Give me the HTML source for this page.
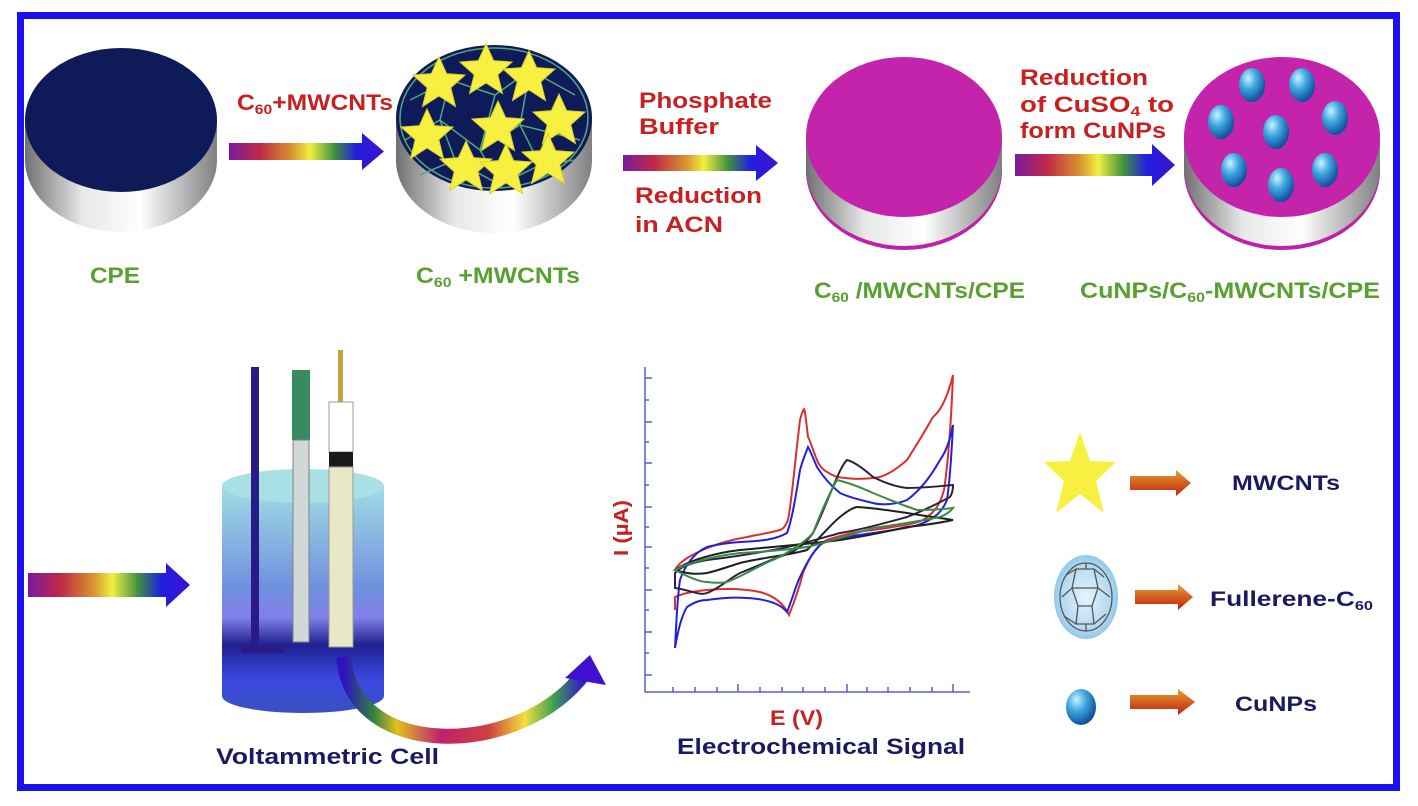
<!DOCTYPE html>
<html><head><meta charset="utf-8"><style>
html,body{margin:0;padding:0;background:#fff}
svg{display:block}
text{font-family:"Liberation Sans",sans-serif;font-weight:bold}
</style></head><body>
<svg width="1418" height="806" viewBox="0 0 1418 806" xmlns="http://www.w3.org/2000/svg">
<defs>
<linearGradient id="rb" x1="0" x2="1" y1="0" y2="0">
<stop offset="0" stop-color="#7a1aa0"/><stop offset="0.2" stop-color="#c02848"/><stop offset="0.4" stop-color="#d89030"/><stop offset="0.52" stop-color="#f0f040"/><stop offset="0.68" stop-color="#409040"/><stop offset="0.82" stop-color="#2020e0"/><stop offset="1" stop-color="#4010d0"/>
</linearGradient>
<linearGradient id="cv" x1="0" x2="1" y1="0" y2="0">
<stop offset="0" stop-color="#3010c0"/><stop offset="0.12" stop-color="#308040"/><stop offset="0.22" stop-color="#e0c020"/><stop offset="0.4" stop-color="#c02070"/><stop offset="0.6" stop-color="#d04040"/><stop offset="0.75" stop-color="#f0e040"/><stop offset="0.87" stop-color="#40a050"/><stop offset="1" stop-color="#3010d0"/>
</linearGradient>
<linearGradient id="side" x1="0" x2="1"><stop offset="0" stop-color="#707070"/><stop offset="0.3" stop-color="#e8e8e8"/><stop offset="0.6" stop-color="#ffffff"/><stop offset="1" stop-color="#808080"/></linearGradient>
<linearGradient id="cyl" x1="0" x2="0" y1="0" y2="1"><stop offset="0" stop-color="#a0dce4"/><stop offset="0.45" stop-color="#7090e0"/><stop offset="0.58" stop-color="#8080e8"/><stop offset="0.7" stop-color="#202090"/><stop offset="0.85" stop-color="#3a48e0"/><stop offset="1" stop-color="#3a50c0"/></linearGradient>
<linearGradient id="or" x1="0" x2="0" y1="0" y2="1"><stop offset="0" stop-color="#e8a030"/><stop offset="1" stop-color="#c02010"/></linearGradient>
<radialGradient id="ball" cx="0.35" cy="0.3" r="0.7"><stop offset="0" stop-color="#c8f4ff"/><stop offset="0.45" stop-color="#40a8e0"/><stop offset="1" stop-color="#1050a0"/></radialGradient>
<radialGradient id="ful" cx="0.5" cy="0.5" r="0.5"><stop offset="0" stop-color="#e8f4ff"/><stop offset="0.8" stop-color="#b0d8f0"/><stop offset="1" stop-color="#90c8ec"/></radialGradient>
<polygon id="star" points="0,-26 7.6,-9.4 26,-8 11.8,4.7 16.5,23.5 0,13 -16.5,23.5 -11.8,4.7 -26,-8 -7.6,-9.4" fill="#f8f040" stroke="#d8d030" stroke-width="1"/>
</defs>
<rect x="20.5" y="15.5" width="1376" height="772" fill="#fff" stroke="#1a10f0" stroke-width="7"/>

<path d="M25,120 L25,160 A96,72 0 0 0 217,160 L217,120 Z" fill="url(#side)"/>
<ellipse cx="121" cy="120" rx="96" ry="72" fill="#0f1a58"/>
<path d="M396,118 L396,160 A98,73 0 0 0 592,160 L592,118 Z" fill="url(#side)"/>
<ellipse cx="494" cy="118" rx="98" ry="73" fill="#0f1a58"/>
<g stroke="#50a880" stroke-width="1.5" fill="none">
<path d="M410,100 L450,80 L495,95 L530,70 L575,95 M405,140 L440,120 L480,150 L520,125 L580,140 M420,175 L455,160 L500,185 L540,165 L575,160 M450,80 L440,120 L455,160 M495,95 L480,150 L500,185 M530,70 L520,125 L540,165"/>
<ellipse cx="494" cy="118" rx="94" ry="70"/>
</g>
<use href="#star" x="439" y="83"/><use href="#star" x="486" y="70"/><use href="#star" x="529" y="77"/>
<use href="#star" x="427" y="135"/><use href="#star" x="498" y="127"/><use href="#star" x="559" y="120"/>
<use href="#star" x="466" y="167"/><use href="#star" x="506" y="170"/><use href="#star" x="548" y="160"/>
<path d="M806,137 L806,170 A98,80 0 0 0 1002,170 L1002,137 Z" fill="url(#side)"/>
<path d="M806,166 A98,80 0 0 0 1002,166 L1002,170 A98,80 0 0 1 806,170Z" fill="#c020a8"/>
<ellipse cx="904" cy="137" rx="98" ry="80" fill="#c424ac"/>
<path d="M1184,137 L1184,170 A98,80 0 0 0 1380,170 L1380,137 Z" fill="url(#side)"/>
<path d="M1184,166 A98,80 0 0 0 1380,166 L1380,170 A98,80 0 0 1 1184,170Z" fill="#c020a8"/>
<ellipse cx="1282" cy="137" rx="98" ry="80" fill="#c424ac"/>
<g fill="url(#ball)">
<ellipse cx="1252" cy="85" rx="13" ry="17"/><ellipse cx="1302" cy="85" rx="13" ry="17"/>
<ellipse cx="1221" cy="122" rx="13" ry="17"/><ellipse cx="1276" cy="132" rx="13" ry="17"/><ellipse cx="1335" cy="118" rx="13" ry="17"/>
<ellipse cx="1234" cy="170" rx="13" ry="17"/><ellipse cx="1281" cy="185" rx="13" ry="17"/><ellipse cx="1325" cy="170" rx="13" ry="17"/>
</g>

<g fill="url(#rb)">
<path d="M229,143 L362,143 L362,133 L384,151.5 L362,170 L362,160 L229,160Z"/>
<path d="M623,155 L756,155 L756,145 L778,163 L756,181 L756,171 L623,171Z"/>
<path d="M1015,154 L1152,154 L1152,144 L1175,165 L1152,186 L1152,176 L1015,176Z"/>
<path d="M28,573 L166,573 L166,563 L190,585 L166,607 L166,597 L28,597Z"/>
</g>

<g fill="#c82020" font-size="22">
<text x="237" y="110" textLength="156" lengthAdjust="spacingAndGlyphs">C<tspan font-size="14" dy="4">60</tspan><tspan dy="-4">+MWCNTs</tspan></text>
<text x="639" y="108" textLength="133" lengthAdjust="spacingAndGlyphs">Phosphate</text>
<text x="639" y="134" textLength="80" lengthAdjust="spacingAndGlyphs">Buffer</text>
<text x="635" y="203" textLength="127" lengthAdjust="spacingAndGlyphs">Reduction</text>
<text x="635" y="232" textLength="88" lengthAdjust="spacingAndGlyphs">in ACN</text>
<text x="1020" y="85" textLength="128" lengthAdjust="spacingAndGlyphs">Reduction</text>
<text x="1020" y="112" textLength="154" lengthAdjust="spacingAndGlyphs">of  CuSO<tspan font-size="14" dy="4">4</tspan><tspan dy="-4"> to</tspan></text>
<text x="1020" y="138" textLength="146" lengthAdjust="spacingAndGlyphs">form CuNPs</text>
</g>
<g fill="#58a030" font-size="22">
<text x="90" y="283" textLength="50" lengthAdjust="spacingAndGlyphs">CPE</text>
<text x="416" y="283" textLength="164" lengthAdjust="spacingAndGlyphs">C<tspan font-size="14" dy="4">60</tspan><tspan dy="-4"> +MWCNTs</tspan></text>
<text x="814" y="298" textLength="211" lengthAdjust="spacingAndGlyphs">C<tspan font-size="14" dy="4">60</tspan><tspan dy="-4"> /MWCNTs/CPE</tspan></text>
<text x="1080" y="298" textLength="300" lengthAdjust="spacingAndGlyphs">CuNPs/C<tspan font-size="14" dy="4">60</tspan><tspan dy="-4">-MWCNTs/CPE</tspan></text>
</g>

<path d="M222,486 L222,696 A81,17 0 0 0 384,696 L384,486Z" fill="url(#cyl)"/>
<ellipse cx="303" cy="486" rx="81" ry="17" fill="#a8e0e6"/>
<rect x="251" y="367" width="8" height="282" fill="#2a1a88"/>
<rect x="241" y="645" width="43" height="8" fill="#2a1a88"/>
<rect x="292" y="370" width="18" height="70" fill="#3a8a60"/>
<rect x="293" y="440" width="16" height="202" fill="#d0d8d8" stroke="#808080"/>
<rect x="338" y="350" width="5" height="52" fill="#c0a040"/>
<rect x="329" y="402" width="24" height="50" fill="#ffffff" stroke="#999"/>
<rect x="329" y="452" width="24" height="15" fill="#1a1a1a"/>
<rect x="329" y="467" width="24" height="180" fill="#eae6c8" stroke="#999"/>
<path d="M344,657 C350,760 520,760 585,672" stroke="url(#cv)" stroke-width="15" fill="none"/>
<polygon points="565,678 590,655 606,685" fill="#4010d0"/>
<text x="216" y="764" fill="#1a1a60" font-size="22" textLength="223" lengthAdjust="spacingAndGlyphs">Voltammetric Cell</text>

<g stroke="#5060e0" stroke-width="1.5" fill="none">
<path d="M645,367 L645,692 L970,692"/>
<path d="M645,378 h7 M645,400 h4 M645,422 h7 M645,442 h4 M645,463 h7 M645,485 h4 M645,507 h7 M645,527 h4 M645,547 h7 M645,568 h4 M645,590 h7 M645,610 h4 M645,632 h7 M645,653 h4 M645,675 h7"/>
<path d="M673,692 v-5 M695,692 v-5 M717,692 v-5 M738,692 v-8 M760,692 v-5 M782,692 v-5 M803,692 v-5 M825,692 v-5 M847,692 v-8 M867,692 v-5 M888,692 v-5 M910,692 v-5 M932,692 v-5 M953,692 v-8"/>
</g>
<g fill="none" stroke-width="2">
<path d="M675,610 L675,597 C690,590 730,586 760,592 C775,596 784,604 789,615 C795,600 800,585 803,573 C810,555 820,543 827,540 C845,534 860,531 873,530 C900,526 915,524 923,520 C935,512 940,505 944,490 C950,450 952,400 953,375 C948,395 942,410 933,417 C920,440 910,455 907,460 C890,475 880,478 873,478 C855,480 845,478 837,477 C825,472 820,468 817,460 C812,448 810,440 808,437 C806,420 805,410 804,409 C802,412 801,416 800,420 C795,460 792,500 788,520 C785,527 783,529 780,530 C765,534 755,535 747,537 C730,540 720,543 710,547 C695,553 680,560 675,570" stroke="#d83030"/>
<path d="M675,648 C678,630 682,615 687,607 C695,602 700,600 707,600 C720,598 735,597 747,598 C765,599 780,603 787,612 C792,600 796,585 800,577 C808,560 815,548 823,543 C840,537 860,535 873,533 C900,529 915,527 923,523 C935,518 942,512 947,500 C950,480 952,445 953,425 C950,440 946,452 940,460 C930,478 918,492 907,500 C895,505 880,505 873,503 C860,500 848,497 840,493 C830,485 822,475 817,467 C813,458 810,450 808,447 C805,455 802,462 800,470 C796,495 792,520 787,533 C775,540 760,541 740,542 C725,543 715,545 707,547 C695,552 685,565 680,580 C677,600 676,630 675,648" stroke="#2020e0"/>
<path d="M675,588 C690,590 700,596 707,593 C720,588 730,578 740,573 C760,565 775,558 790,553 C800,548 808,540 813,533 C822,515 828,498 833,487 C838,475 842,465 847,460 C855,462 865,470 873,477 C885,483 897,487 907,488 C925,488 940,486 953,485 C953,490 952,494 950,497 C935,505 920,512 907,517 C885,523 860,530 840,533 C815,540 795,546 773,550 C745,555 725,558 707,560 C690,563 680,567 675,573 Z" stroke="#302040"/>
<path d="M675,570 C690,575 700,574 707,573 C720,570 730,566 740,563 C760,558 790,555 807,550 C820,538 830,525 840,517 C846,512 852,508 857,507 C875,508 893,511 907,513 C925,516 940,518 953,520 C940,523 925,525 907,527 C885,532 860,537 840,540 C810,544 770,547 740,550 C715,553 690,560 675,570 Z" stroke="#202020"/>
<path d="M675,570 C690,578 700,582 707,582 C715,583 722,583 727,582 C745,575 760,565 773,560 C790,552 805,542 813,533 C820,515 830,492 837,480 C850,483 862,488 873,493 C890,500 905,506 917,510 C930,510 945,509 953,508 C950,512 945,515 940,517 C920,521 895,525 873,528 C850,535 825,543 807,547 C785,550 760,552 740,553 C715,556 690,562 675,570 Z" stroke="#3a8a48"/>
</g>
<text x="628" y="556" fill="#c82020" font-size="20" transform="rotate(-90 628 556)" textLength="56" lengthAdjust="spacingAndGlyphs">I (µA)</text>
<text x="770" y="725" fill="#c82020" font-size="21" textLength="53" lengthAdjust="spacingAndGlyphs">E (V)</text>
<text x="677" y="754" fill="#1a1a60" font-size="22" textLength="288" lengthAdjust="spacingAndGlyphs">Electrochemical Signal</text>

<polygon points="1080,432 1090,461 1116,462 1096,481 1104,513 1080,494 1056,513 1064,481 1044,462 1070,461" fill="#f8f040"/>
<path d="M1130,476 L1176,476 L1176,470 L1191,483 L1176,496 L1176,490 L1130,490Z" fill="url(#or)"/>
<text x="1232" y="490" fill="#1a1a60" font-size="21" textLength="108" lengthAdjust="spacingAndGlyphs">MWCNTs</text>
<ellipse cx="1086" cy="597" rx="32" ry="42" fill="url(#ful)"/>
<g stroke="#555" stroke-width="1.3" fill="none"><ellipse cx="1086" cy="597" rx="26" ry="34"/>
<path d="M1066,575 L1076,569 L1094,569 L1104,577 M1062,597 L1072,588 L1098,588 L1110,597 M1064,616 L1076,624 L1094,624 L1106,614 M1076,569 L1072,588 L1078,606 L1076,624 M1094,569 L1098,588 L1092,606 L1094,624 M1078,606 L1092,606 M1072,588 L1062,597 M1086,563 L1086,569 M1086,624 L1086,631"/></g>
<path d="M1135,590 L1178,590 L1178,584 L1193,597 L1178,610 L1178,604 L1135,604Z" fill="url(#or)"/>
<text x="1210" y="606" fill="#1a1a60" font-size="21" textLength="163" lengthAdjust="spacingAndGlyphs">Fullerene-C<tspan font-size="13" dy="4">60</tspan></text>
<ellipse cx="1081" cy="707" rx="15" ry="18" fill="url(#ball)"/>
<path d="M1130,695 L1178,695 L1178,689 L1195,702 L1178,715 L1178,709 L1130,709Z" fill="url(#or)"/>
<text x="1235" y="711" fill="#1a1a60" font-size="21" textLength="82" lengthAdjust="spacingAndGlyphs">CuNPs</text>
</svg>
</body></html>
